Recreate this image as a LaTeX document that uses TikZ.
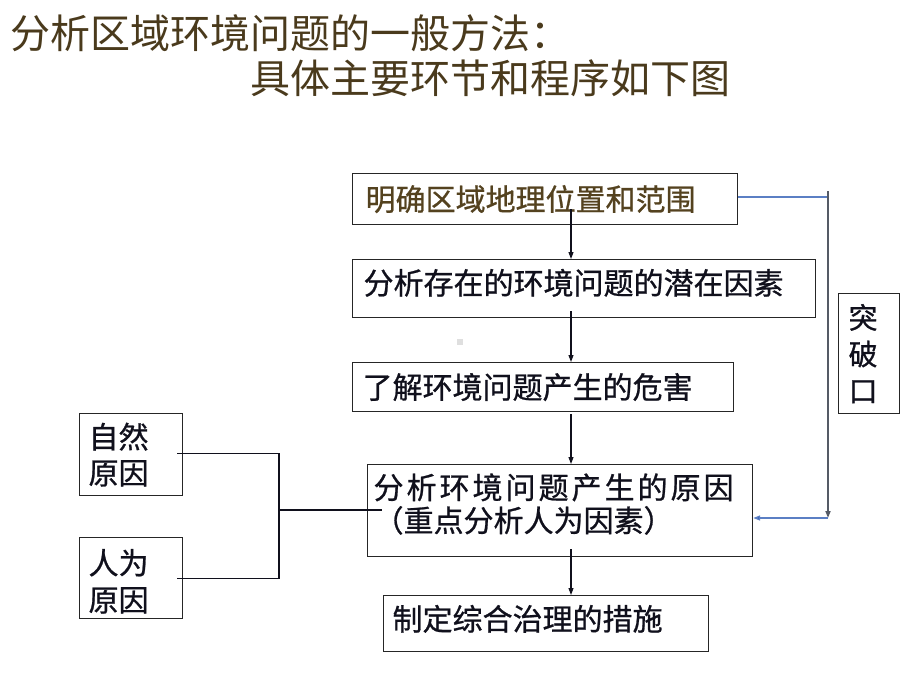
\documentclass[tikz,border=0pt]{standalone}
\usepackage{fontspec}
\setmainfont{Noto Sans CJK SC}
\newfontfamily\boxcjk[FakeBold=0.8]{Noto Sans CJK SC}
\newfontfamily\widecjk[FakeBold=0.8,LetterSpace=10]{Noto Sans CJK SC}
\usetikzlibrary{arrows.meta,calc}
\definecolor{titlebrown}{HTML}{4A3A1C}
\definecolor{boxbrown}{HTML}{54421F}
\definecolor{ink}{HTML}{10101C}
\definecolor{boxline}{HTML}{262626}
\definecolor{sideblue}{HTML}{5B7FC4}
\definecolor{tipblue}{HTML}{1F45A6}
\definecolor{sidegray}{HTML}{555B66}
\tikzset{
 box/.style={draw=boxline,line width=1.2pt,anchor=north west,align=left,inner ysep=0pt,
  text=ink,font=\boxcjk\fontsize{30}{33}\selectfont},
 title/.style={anchor=west,inner sep=0pt,text=titlebrown,font=\fontsize{40}{44}\selectfont},
 flow/.style={draw=ink,line width=1.1pt,-{Triangle[length=7pt,width=5pt]}},
 link/.style={draw=ink,line width=1.1pt},
 sidelink/.style={draw=sideblue,line width=1.4pt}
}
\begin{document}
\begin{tikzpicture}[x=1pt,y=-1pt]
 \useasboundingbox[fill=white] (0,0) rectangle (920,690);
 \node[title] (t1) at (10,33) {分析区域环境问题的一般方法：};
 \node[title] (t2) at (250,78) {具体主要环节和程序如下图};
 \node[box,text=boxbrown,inner xsep=13pt,text width=359pt,minimum height=51pt] (b1) at (352,173) {明确区域地理位置和范围};
 \node[box,inner xsep=11pt,text width=441pt,minimum height=58pt,text depth=14pt] (b2) at (352,259) {分析存在的环境问题的潜在因素};
 \node[box,inner xsep=10pt,text width=361pt,minimum height=49pt] (b3) at (352,362) {了解环境问题产生的危害};
 \node[box,inner xsep=6pt,text width=373pt,minimum height=92pt,text depth=49pt] (b4) at (367,464) {{\widecjk 分析环境问题产生的原因}\\（重点分析人为因素）};
 \node[box,inner xsep=9pt,text width=307pt,minimum height=56pt,text depth=12pt] (b5) at (383,595) {制定综合治理的措施};
 \node[box,inner xsep=10pt,text width=41pt,minimum height=120pt,font=\boxcjk\fontsize{29}{36.5}\selectfont] (k) at (838,293) {突\\破\\口};
 \node[box,inner xsep=9pt,text width=85pt,minimum height=82pt,font=\boxcjk\fontsize{30}{36}\selectfont] (n1) at (79,413) {自然\\原因};
 \node[box,inner xsep=9pt,text width=85pt,minimum height=81pt,font=\boxcjk\fontsize{30}{37}\selectfont,text depth=33pt] (n2) at (79,537) {人为\\原因};
 \fill[gray!25] (457,339) rectangle (463,345);
 \coordinate (ax) at (571,0);
 \draw[flow] ($(b1.south -| ax)+(0,-16)$) -- (b2.north -| ax);
 \draw[flow] ($(b2.south -| ax)+(0,-7)$) -- (b3.north -| ax);
 \draw[flow] ($(b3.south -| ax)+(0,2)$) -- (b4.north -| ax);
 \draw[flow] ($(b4.south -| ax)+(0,-8)$) -- (b5.north -| ax);
 \coordinate (jn) at (279,510);
 \draw[link] ($(n1.east)+(-6,-1)$) -| (jn);
 \draw[link] ($(n2.east)+(-6,0)$) -| (jn);
 \draw[link] (jn) -- ($(jn -| b4.west)+(15,0)$);
 \coordinate (rtop) at (828,191);
 \coordinate (rbot) at (828,518);
 \draw[sidelink] ($(b1.east)+(0,-2)$) -- ($(b1.east -| rtop)+(0,-2)$);
 \draw[draw=sidegray,line width=1.6pt,-{Triangle[length=7pt,width=5pt]}] (rtop) -- (rbot);
 \draw[sidelink,-{Triangle[length=7pt,width=5pt,fill=tipblue]}] (rbot) -- (rbot -| b4.east);
\end{tikzpicture}
\end{document}
